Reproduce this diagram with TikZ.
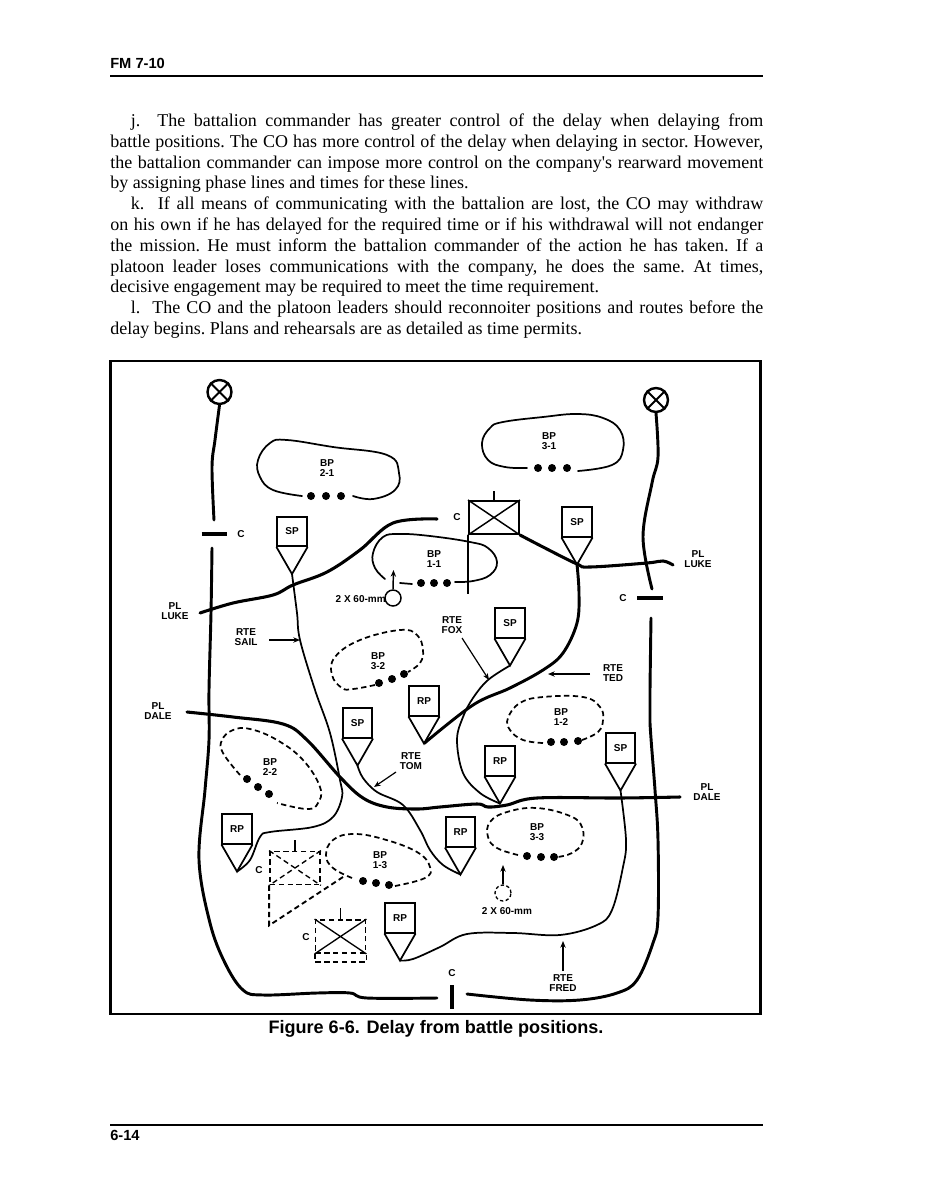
\documentclass[tikz,border=0pt]{standalone}
\usepackage{fontspec}
\setmainfont{Liberation Serif}
\newfontfamily\plainserif{Liberation Serif}
\newfontfamily\armyfont{Liberation Sans}
\usetikzlibrary{arrows.meta}

\tikzset{
  lbl/.style={font=\armyfont\bfseries\fontsize{7.5}{7.6}\selectfont, align=center, inner sep=0pt},
  signbox/.style={draw, line width=1.3pt, minimum size=22pt, inner sep=0pt, font=\armyfont\bfseries\fontsize{7.5}{8}\selectfont},
  bound/.style={line width=2.2pt, line cap=round},
  phase/.style={line width=2.3pt, line cap=round},
  rtethin/.style={line width=1.3pt},
  rtethick/.style={line width=2.2pt},
  bpsolid/.style={line width=1.3pt, line cap=round},
  bpdash/.style={line width=1.3pt, dash pattern=on 4pt off 2.6pt},
  lead/.style={line width=0.9pt, -{Stealth[length=5pt,width=4pt]}},
  xcirc/.style={draw, circle, line width=1.8pt, minimum size=18pt, inner sep=0pt},
  unit/.style={draw, minimum width=37.5pt, minimum height=24.75pt, inner sep=0pt}
}

\newcommand\ctrlsign[4]{
  \node[signbox] (#1) at (#2,#3) {#4};
  \path (#1.south) ++(0,27) coordinate (#1-tip);
  \draw[line width=1.3pt] (#1.south west) -- (#1-tip) -- (#1.south east);
}

\begin{document}
\begin{tikzpicture}[x=0.75pt, y=-0.75pt]
\useasboundingbox (0,0) rectangle (926,1198);

% page
\node[anchor=west, inner sep=0pt, font=\armyfont\bfseries\fontsize{11}{12}\selectfont] (hdr) at (110,63) {FM 7-10};
\draw[line width=1.1pt] (110,76) -- (763,76);
\node[anchor=north west, inner sep=0pt, text width=489.75pt, align=justify, font=\frenchspacing\fontsize{13.5}{15.6}\selectfont] (body) at (110,113.5) {%
\hspace*{15.5pt}j.\ \ The battalion commander has greater control of the delay when delaying from\linebreak
battle positions. The CO has more control of the delay when delaying in sector. However,\linebreak
the battalion commander can impose more control on the company{\plainserif'}s rearward movement\linebreak
by assigning phase lines and times for these lines.\par
\hspace*{15.5pt}k.\ \ If all means of communicating with the battalion are lost, the CO may withdraw\linebreak
on his own if he has delayed for the required time or if his withdrawal will not endanger\linebreak
the mission. He must inform the battalion commander of the action he has taken. If a\linebreak
platoon leader loses communications with the company, he does the same. At times,\linebreak
decisive engagement may be required to meet the time requirement.\par
\hspace*{15.5pt}l.\ \ The CO and the platoon leaders should reconnoiter positions and routes before the\linebreak
delay begins. Plans and rehearsals are as detailed as time permits.\par};
\draw[line width=2.2pt] (110.5,361) rectangle (760.5,1014);
\node[inner sep=0pt, font=\armyfont\bfseries\fontsize{13.55}{15}\selectfont] (cap) at (436,1029) {Figure 6-6. Delay from battle positions.};
\draw[line width=1.1pt] (110,1125) -- (763,1125);
\node[anchor=west, inner sep=0pt, font=\armyfont\bfseries\fontsize{11}{12}\selectfont] (ftr) at (110,1135) {6-14};

% sector boundaries
\node[xcirc] (xl) at (219.5,392) {};
\draw[line width=1.5pt] (xl.north west) -- (xl.south east) (xl.north east) -- (xl.south west);
\node[xcirc] (xr) at (656,400) {};
\draw[line width=1.5pt] (xr.north west) -- (xr.south east) (xr.north east) -- (xr.south west);
\draw[bound] plot[smooth, tension=.6] coordinates {(xl.south) (215,440) (212,467) (214,520)};
\draw[line width=2.4pt] (201.5,534) -- (226.5,534);
\node[lbl] (cl) at (241,534) {C};
\draw[bound] plot[smooth, tension=.6] coordinates {(212,548) (211,613) (209,690) (209,740) (205,790) (199,860) (210,923) (225,963) (243,990) (263,995) (317,993) (350,993) (367,998) (437,998)};
\draw[line width=2.4pt] (452,985) -- (452,1009);
\node[lbl] (cb) at (452,973) {C};
\draw[bound] plot[smooth, tension=.6] coordinates {(467,994) (530,1000) (580,1000) (617,993) (637,980) (653,943) (658,917) (658,840) (655,790) (650,723) (650,690) (651,618)};
\draw[line width=2.4pt] (637,598) -- (663,598);
\node[lbl] (cr) at (623,598) {C};
\draw[bound] plot[smooth, tension=.6] coordinates {(652,589) (643,537) (652,483) (658,457) (xr.south)};

% company team in the north
\node[unit, line width=1.5pt] (teamA) at (494,517.5) {};
\draw[line width=1.1pt] (teamA.north west) -- (teamA.south east) (teamA.north east) -- (teamA.south west);
\path (teamA.north) ++(0,-9) coordinate (teamA-top);
\draw[line width=1.1pt] (teamA.north) -- (teamA-top);
\path (teamA.south west) ++(0,59) coordinate (teamA-foot);
\draw[line width=1.5pt] (teamA.south west) -- (teamA-foot);
\node[lbl] (cA) at (457,517) {C};

% battle positions
\draw[bpsolid] plot[smooth, tension=.7] coordinates {(302,496) (273,490) (260,477) (258,460) (270,443) (287,440) (333,447) (387,455) (399,473) (395,490) (373,499) (353,496)};
\fill (311,496) circle (4) (326,496) circle (4) (341,496) circle (4);
\node[lbl] (bp21) at (327,468) {BP\\2-1};
\draw[bpsolid] plot[smooth, tension=.7] coordinates {(527,468) (505,467) (488,460) (482,443) (490,428) (503,422) (543,417) (577,414) (603,418) (620,430) (623,450) (612,465) (578,471)};
\fill (538,468) circle (4) (552,468) circle (4) (567,468) circle (4);
\node[lbl] (bp31) at (549,441) {BP\\3-1};
\draw[bpsolid] plot[smooth, tension=.7] coordinates {(385,579) (375,568) (373,553) (383,537) (400,534) (430,536) (470,542) (488,548) (497,562) (490,575) (473,581) (455,582)};
\draw[bpsolid] (400,583) -- (412,584);
\fill (421,583) circle (4) (434,583) circle (4) (447,583) circle (4);
\node[lbl] (bp11) at (434,559) {BP\\1-1};
\draw[bpdash] plot[smooth, tension=.7] coordinates {(375,685) (353,689) (342,688) (332,675) (335,657) (360,640) (400,630) (417,635) (423,650) (420,663) (408,672)};
\fill (379,683) circle (4) (392,679) circle (4) (404,674) circle (4);
\node[lbl] (bp32) at (378,661) {BP\\3-2};
\draw[bpdash] plot[smooth, tension=.7] coordinates {(543,743) (523,740) (510,730) (508,718) (520,703) (543,697) (583,697) (600,707) (603,720) (598,732) (582,740)};
\fill (551,742) circle (4) (564,742) circle (4) (578,741) circle (4);
\node[lbl] (bp12) at (561,717) {BP\\1-2};
\draw[bpdash] plot[smooth, tension=.7] coordinates {(240,775) (223,753) (222,740) (233,730) (250,729) (277,740) (303,760) (320,787) (318,803) (307,809) (277,803)};
\fill (247,779) circle (4) (258,787) circle (4) (269,794) circle (4);
\node[lbl] (bp22) at (270,767) {BP\\2-2};
\draw[bpdash] plot[smooth, tension=.7] coordinates {(352,878) (333,868) (326,855) (333,840) (353,834) (383,839) (417,852) (430,867) (425,878) (395,886)};
\fill (363,881) circle (4) (376,883) circle (4) (389,885) circle (4);
\node[lbl] (bp13) at (380,860) {BP\\1-3};
\draw[bpdash] plot[smooth, tension=.7] coordinates {(518,855) (497,848) (488,837) (490,822) (507,812) (537,808) (570,816) (582,827) (582,843) (572,853) (558,857)};
\fill (527,856) circle (4) (541,857) circle (4) (554,857) circle (4);
\node[lbl] (bp33) at (537,832) {BP\\3-3};

% start and release points
\ctrlsign{spSail}{292}{531.5}{SP}
\ctrlsign{spTed}{577}{522}{SP}
\ctrlsign{spFox}{510}{623}{SP}
\ctrlsign{spTom}{357.5}{723}{SP}
\ctrlsign{spFred}{620.5}{748}{SP}
\ctrlsign{rpTed}{424}{701}{RP}
\ctrlsign{rpFox}{500}{761}{RP}
\ctrlsign{rpSail}{237}{829}{RP}
\ctrlsign{rpTom}{460.5}{832}{RP}
\ctrlsign{rpFred}{400}{918}{RP}

% phase lines
\draw[phase] plot[smooth, tension=.6] coordinates {(200,613) (233,603) (273,595) (293,585) (327,572) (360,550) (393,523) (437,519)};
\draw[phase] plot[smooth, tension=.6] coordinates {(teamA.south east) (543,547) (577,564) (590,567) (647,563) (663,561) (673,565)};
\node[lbl] (plluke) at (175,611) {PL\\LUKE};
\node[lbl] (plluke2) at (698,559) {PL\\LUKE};
\draw[phase] plot[smooth, tension=.6] coordinates {(187,712) (233,717) (283,724) (307,740) (340,777) (363,798) (387,807) (417,809) (440,807) (477,804) (488,807) (507,805) (537,798) (620,798) (680,797)};
\node[lbl] (pldale) at (158,711) {PL\\DALE};
\node[lbl] (pldale2) at (707,792) {PL\\DALE};

% routes
\draw[rtethin] plot[smooth, tension=.6] coordinates {(spSail-tip) (297,613) (300,640) (315,690) (330,733) (340,780) (342,797) (333,817) (313,827) (270,832) (260,837) (250,860) (rpSail-tip)};
\draw[rtethick] plot[smooth, tension=.6] coordinates {(spTed-tip) (579,593) (577,623) (563,653) (543,670) (510,688) (473,705) (rpTed-tip)};
\draw[rtethin] plot[smooth, tension=.6] coordinates {(spFox-tip) (488,680) (473,698) (463,717) (457,740) (463,773) (480,793) (rpFox-tip)};
\draw[rtethin] plot[smooth, tension=.6] coordinates {(spTom-tip) (363,778) (377,792) (403,805) (420,830) (430,850) (443,865) (rpTom-tip)};
\draw[rtethin] plot[smooth, tension=.6] coordinates {(spFred-tip) (626,840) (623,867) (612,910) (597,925) (560,935) (513,933) (467,934) (440,947) (413,959) (rpFred-tip)};

% route labels
\node[lbl] (sail) at (246,637) {RTE\\SAIL};
\coordinate (sailHit) at (300,640);
\draw[lead] (269,640) -- (sailHit);
\node[lbl] (fox) at (452,625) {RTE\\FOX};
\coordinate (foxHit) at (489,680);
\draw[lead] (462,638) -- (foxHit);
\node[lbl] (ted) at (613,673) {RTE\\TED};
\coordinate (tedHit) at (548,674);
\draw[lead] (590,674) -- (tedHit);
\node[lbl] (tom) at (411,761) {RTE\\TOM};
\coordinate (tomHit) at (374,787);
\draw[lead] (396,772) -- (tomHit);
\node[lbl] (fred) at (563,983) {RTE\\FRED};
\coordinate (fredHit) at (563,941);
\draw[lead] (563,971) -- (fredHit);

% mortars
\node[draw, circle, line width=1.1pt, minimum size=12pt, inner sep=0pt] (mortA) at (393,598) {};
\coordinate (mortAhead) at (393.5,570);
\draw[lead, line width=1.1pt] (mortA.north) -- (mortAhead);
\node[lbl, anchor=east] (mortAtxt) at (386,599) {2 X 60-mm};
\node[draw, circle, line width=1pt, dash pattern=on 2.5pt off 1.8pt, minimum size=12pt, inner sep=0pt] (mortB) at (503,893) {};
\coordinate (mortBhead) at (503,865);
\draw[lead, line width=1.1pt] (mortB.north) -- (mortBhead);
\node[lbl] (mortBtxt) at (507,911) {2 X 60-mm};

% withdrawn company positions
\node[unit, line width=1.4pt, dash pattern=on 4pt off 2.6pt] (teamB) at (295,868) {};
\draw[line width=1pt, dash pattern=on 4pt off 2.6pt] (teamB.north west) -- (teamB.south east) (teamB.north east) -- (teamB.south west);
\path (teamB.north) ++(0,-11) coordinate (teamB-top);
\draw[line width=1.4pt] (teamB.north) -- (teamB-top);
\path (teamB.south west) ++(0,40) coordinate (teamB-foot);
\coordinate (teamB-end) at (343,877);
\draw[line width=1.4pt, dash pattern=on 4pt off 2.6pt] (teamB.south west) -- (teamB-foot) -- (teamB-end);
\node[lbl] (cB) at (259,870) {C};
\node[unit, line width=1.4pt, dash pattern=on 4pt off 2.6pt] (teamC) at (340.5,936.5) {};
\draw[line width=1pt] (teamC.north west) -- (teamC.south east) (teamC.north east) -- (teamC.south west);
\path (teamC.north) ++(0,-11) coordinate (teamC-top);
\draw[line width=1.4pt] (teamC.north) -- (teamC-top);
\path (teamC.south west) ++(0,8) coordinate (teamC-a);
\path (teamC.south east) ++(0,8) coordinate (teamC-b);
\draw[line width=1.4pt, dash pattern=on 4pt off 2.6pt] (teamC.south west) -- (teamC-a) -- (teamC-b) -- (teamC.south east);
\node[lbl] (cC) at (306,937) {C};
\end{tikzpicture}
\end{document}
